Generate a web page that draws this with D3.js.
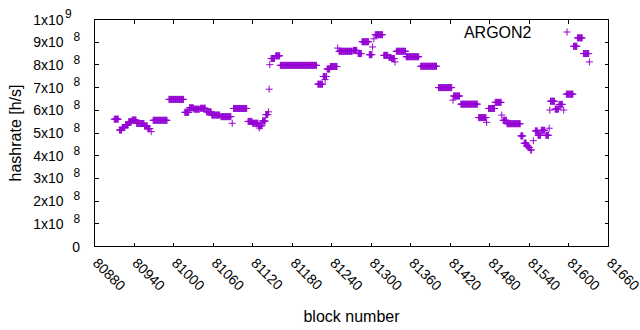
<!DOCTYPE html>
<html>
<head>
<meta charset="utf-8">
<script src="https://cdn.jsdelivr.net/npm/d3@7"></script>
<style>
  body { margin: 0; background: #fff; }
  text { font-family: "Liberation Sans", Arial, sans-serif; fill: #000; }
</style>
</head>
<body>
<div id="chart"></div>
<script>
// Hashrate estimate per block, read off the plot as runs of equal value
// (first block, last block, hashrate in h/s).
const runFirst = [80910, 80918, 80922, 80927, 80932, 80937, 80944, 80956, 80961, 80966,
    80969, 80993, 81017, 81024, 81031, 81041, 81050, 81058, 81072, 81089,
    81091, 81113, 81120, 81129, 81130, 81131, 81135, 81140, 81144, 81145,
    81146, 81148, 81155, 81162, 81219, 81227, 81230, 81231, 81233, 81238,
    81249, 81251, 81273, 81280, 81286, 81297, 81302, 81304, 81306, 81319,
    81327, 81331, 81336, 81338, 81353, 81375, 81402, 81424, 81425, 81436,
    81463, 81475, 81478, 81488, 81498, 81500, 81506, 81527, 81532, 81536,
    81539, 81542, 81546, 81549, 81553, 81558, 81565, 81570, 81571, 81572,
    81579, 81585, 81592, 81596, 81607, 81613, 81622, 81631];
const runLast = [80916, 80921, 80926, 80931, 80936, 80943, 80955, 80960, 80964, 80966,
    80990, 81015, 81023, 81030, 81039, 81048, 81057, 81070, 81087, 81089,
    81111, 81119, 81128, 81129, 81130, 81134, 81139, 81143, 81144, 81145,
    81146, 81153, 81161, 81217, 81226, 81229, 81230, 81232, 81237, 81248,
    81249, 81271, 81278, 81285, 81296, 81301, 81302, 81304, 81317, 81325,
    81330, 81335, 81336, 81352, 81372, 81399, 81422, 81424, 81434, 81461,
    81474, 81475, 81487, 81497, 81498, 81505, 81526, 81530, 81535, 81538,
    81540, 81543, 81546, 81552, 81557, 81563, 81569, 81570, 81571, 81578,
    81584, 81590, 81592, 81606, 81612, 81620, 81630, 81631];
const runRate = [5.61e8, 5.13e8, 5.24e8, 5.35e8, 5.50e8, 5.57e8, 5.42e8, 5.31e8, 5.19e8, 5.06e8,
    5.56e8, 6.48e8, 5.91e8, 6.11e8, 6.05e8, 6.09e8, 5.93e8, 5.79e8, 5.72e8, 5.43e8,
    6.08e8, 5.51e8, 5.43e8, 5.32e8, 5.22e8, 5.32e8, 5.53e8, 5.81e8, 5.93e8, 6.93e8,
    8.01e8, 8.28e8, 8.40e8, 7.98e8, 7.15e8, 7.49e8, 7.35e8, 7.49e8, 7.82e8, 7.93e8,
    8.74e8, 8.60e8, 8.64e8, 8.50e8, 9.02e8, 8.45e8, 8.79e8, 9.15e8, 9.33e8, 8.42e8,
    8.33e8, 8.28e8, 8.13e8, 8.60e8, 8.36e8, 7.94e8, 7.00e8, 6.45e8, 6.63e8, 6.27e8,
    5.68e8, 5.47e8, 6.08e8, 6.35e8, 5.79e8, 5.56e8, 5.41e8, 4.87e8, 4.55e8, 4.43e8,
    4.36e8, 4.25e8, 4.66e8, 5.09e8, 4.90e8, 5.12e8, 4.90e8, 5.21e8, 6.01e8, 6.40e8,
    6.05e8, 6.26e8, 6.01e8, 6.71e8, 8.82e8, 9.19e8, 8.50e8, 8.13e8];

const xTicks = d3.range(80880, 81661, 60);
const yTicks = d3.range(0, 10.5, 1).map(d => d * 1e8);
const seriesName = "ARGON2";
const color = "#9400d3";

// one point per block
const points = [];
runFirst.forEach((b0, i) => {
    for (let b = b0; b <= runLast[i]; b++) points.push({ block: b, rate: runRate[i] });
});

const width = 640, height = 330;
const margin = { left: 94.5, right: 31.5, top: 19.5, bottom: 83.5 };

const svg = d3.select("#chart").append("svg")
    .attr("width", width)
    .attr("height", height);

const x = d3.scaleLinear().domain([80880, 81660]).range([margin.left, width - margin.right]);
const y = d3.scaleLinear().domain([0, 1e9]).range([height - margin.bottom, margin.top]);

const x0 = x.range()[0], x1 = x.range()[1], y0 = y.range()[0], y1 = y.range()[1];
const tickLen = 4;

// tick marks on all four sides, pointing inward (gnuplot mirror tics)
const ticks = svg.append("g")
    .attr("stroke", "#000")
    .attr("stroke-width", 1)
    .attr("shape-rendering", "crispEdges");
xTicks.forEach(t => {
    ticks.append("line").attr("x1", x(t)).attr("x2", x(t)).attr("y1", y0).attr("y2", y0 - tickLen);
    ticks.append("line").attr("x1", x(t)).attr("x2", x(t)).attr("y1", y1).attr("y2", y1 + tickLen);
});
yTicks.forEach(t => {
    ticks.append("line").attr("x1", x0).attr("x2", x0 + tickLen).attr("y1", y(t)).attr("y2", y(t));
    ticks.append("line").attr("x1", x1).attr("x2", x1 - tickLen).attr("y1", y(t)).attr("y2", y(t));
});

svg.append("rect")
    .attr("x", x0).attr("y", y1)
    .attr("width", x1 - x0).attr("height", y0 - y1)
    .attr("fill", "none")
    .attr("stroke", "#000")
    .attr("shape-rendering", "crispEdges");

// y tick labels, "Nx10^8" style
const yLab = svg.append("g").attr("font-size", 14);
yTicks.forEach(t => {
    if (t === 0) {
        yLab.append("text")
            .attr("x", 80).attr("y", y(t)).attr("dy", "0.36em")
            .attr("text-anchor", "end").text("0");
        return;
    }
    const exp = Math.floor(Math.log10(t) + 1e-9);
    const mant = Math.round(t / Math.pow(10, exp));
    yLab.append("text")
        .attr("x", 63.5).attr("y", y(t)).attr("dy", "0.36em")
        .attr("text-anchor", "end")
        .text(`${mant}x10`);
    yLab.append("text")
        .attr("x", exp === 9 ? 65 : 73.5).attr("y", y(t)).attr("dy", "-0.1em")
        .attr("font-size", 12)
        .text(exp);
});

// x tick labels rotated by 45 degrees
svg.append("g").attr("font-size", 14)
    .selectAll("text")
    .data(xTicks)
    .join("text")
    .attr("transform", d => `translate(${x(d) + 1},${y0 + 14}) rotate(45)`)
    .attr("text-anchor", "start")
    .attr("dy", "0.35em")
    .text(d => d);

svg.append("text")
    .attr("x", (x0 + x1) / 2)
    .attr("y", 322)
    .attr("text-anchor", "middle")
    .attr("font-size", 16)
    .text("block number");

svg.append("text")
    .attr("transform", `translate(21,${(y0 + y1) / 2}) rotate(-90)`)
    .attr("text-anchor", "middle")
    .attr("font-size", 16)
    .text("hashrate [h/s]");

const plusPath = "M-3.5,0H3.5M0,-3.5V3.5";

svg.append("g")
    .attr("stroke", color)
    .attr("stroke-width", 1)
    .attr("fill", "none")
    .selectAll("path")
    .data(points)
    .join("path")
    .attr("transform", d => `translate(${x(d.block)},${y(d.rate)})`)
    .attr("d", plusPath);

// key
svg.append("text")
    .attr("x", 531.5)
    .attr("y", 32)
    .attr("dy", "0.36em")
    .attr("text-anchor", "end")
    .attr("font-size", 16)
    .text(seriesName);
svg.append("path")
    .attr("transform", "translate(567,32)")
    .attr("d", plusPath)
    .attr("stroke", color)
    .attr("fill", "none");
</script>
</body>
</html>
